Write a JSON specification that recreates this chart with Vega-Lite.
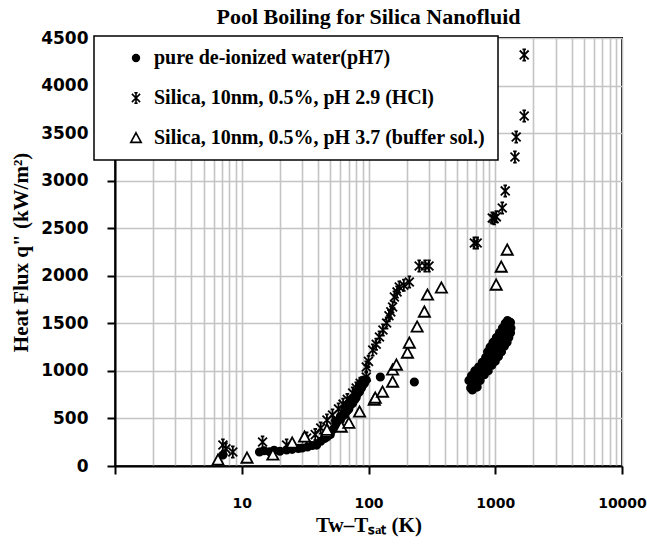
{
  "$schema": "https://vega.github.io/schema/vega-lite/v6.json",
  "width": 507,
  "height": 428,
  "autosize": "none",
  "padding": {"left": 115, "top": 38, "right": 25, "bottom": 80},
  "background": "white",
  "config": {
    "view": {"stroke": "black", "strokeWidth": 2},
    "axis": {
      "domainColor": "black",
      "domainWidth": 2,
      "gridColor": "#c4c4c4",
      "gridWidth": 1.6,
      "gridOpacity": 1,
      "tickColor": "black",
      "tickWidth": 2,
      "tickSize": 8,
      "labelFont": "DejaVu Sans",
      "labelFontWeight": "bold",
      "labelFontSize": 17,
      "labelColor": "black",
      "titleFont": "Liberation Serif",
      "titleFontWeight": "bold",
      "titleColor": "black",
      "labelOverlap": false
    },
    "legend": {
      "orient": "none",
      "legendX": -21,
      "legendY": -2,
      "strokeColor": "black",
      "strokeWidth": 1.5,
      "fillColor": "white",
      "padding": 12,
      "symbolOffset": 20,
      "labelFont": "Liberation Serif",
      "labelFontSize": 20,
      "labelFontWeight": "bold",
      "labelColor": "black",
      "labelLimit": 700,
      "rowPadding": 20,
      "labelOffset": 8,
      "symbolSize": 120,
      "symbolStrokeWidth": 1.6
    }
  },
  "title": {
    "text": "Pool Boiling for Silica Nanofluid",
    "font": "Liberation Serif",
    "fontSize": 22,
    "fontWeight": "bold",
    "color": "black",
    "anchor": "middle",
    "offset": 0
  },
  "data": {
    "values": [
      {"series": "water", "dT": 7.1, "q": 116},
      {"series": "water", "dT": 13.8, "q": 147},
      {"series": "water", "dT": 15, "q": 160},
      {"series": "water", "dT": 16.6, "q": 150},
      {"series": "water", "dT": 18, "q": 165},
      {"series": "water", "dT": 20, "q": 155},
      {"series": "water", "dT": 22.6, "q": 168},
      {"series": "water", "dT": 25, "q": 175},
      {"series": "water", "dT": 28, "q": 185},
      {"series": "water", "dT": 30, "q": 189},
      {"series": "water", "dT": 33, "q": 200},
      {"series": "water", "dT": 36, "q": 215},
      {"series": "water", "dT": 39, "q": 220},
      {"series": "water", "dT": 42, "q": 260},
      {"series": "water", "dT": 45, "q": 290},
      {"series": "water", "dT": 47, "q": 305},
      {"series": "water", "dT": 50, "q": 330},
      {"series": "water", "dT": 52, "q": 380},
      {"series": "water", "dT": 55, "q": 420},
      {"series": "water", "dT": 58, "q": 460},
      {"series": "water", "dT": 60, "q": 480},
      {"series": "water", "dT": 62, "q": 520},
      {"series": "water", "dT": 65, "q": 540},
      {"series": "water", "dT": 68, "q": 580},
      {"series": "water", "dT": 70, "q": 600},
      {"series": "water", "dT": 72, "q": 640},
      {"series": "water", "dT": 75, "q": 660},
      {"series": "water", "dT": 78, "q": 700},
      {"series": "water", "dT": 80, "q": 720},
      {"series": "water", "dT": 82, "q": 760},
      {"series": "water", "dT": 85, "q": 780},
      {"series": "water", "dT": 88, "q": 820},
      {"series": "water", "dT": 90, "q": 850},
      {"series": "water", "dT": 93, "q": 870},
      {"series": "water", "dT": 96, "q": 904},
      {"series": "water", "dT": 55, "q": 470},
      {"series": "water", "dT": 60, "q": 520},
      {"series": "water", "dT": 65, "q": 600},
      {"series": "water", "dT": 70, "q": 650},
      {"series": "water", "dT": 75, "q": 700},
      {"series": "water", "dT": 80, "q": 780},
      {"series": "water", "dT": 85, "q": 850},
      {"series": "water", "dT": 90, "q": 900},
      {"series": "water", "dT": 124, "q": 936},
      {"series": "water", "dT": 230, "q": 883},
      {"series": "water", "dT": 640, "q": 820},
      {"series": "water", "dT": 660, "q": 860},
      {"series": "water", "dT": 680, "q": 880},
      {"series": "water", "dT": 700, "q": 900},
      {"series": "water", "dT": 720, "q": 930},
      {"series": "water", "dT": 740, "q": 950},
      {"series": "water", "dT": 760, "q": 960},
      {"series": "water", "dT": 780, "q": 990},
      {"series": "water", "dT": 800, "q": 1000},
      {"series": "water", "dT": 820, "q": 1020},
      {"series": "water", "dT": 850, "q": 1050},
      {"series": "water", "dT": 870, "q": 1080},
      {"series": "water", "dT": 900, "q": 1100},
      {"series": "water", "dT": 920, "q": 1120},
      {"series": "water", "dT": 950, "q": 1150},
      {"series": "water", "dT": 980, "q": 1180},
      {"series": "water", "dT": 1000, "q": 1200},
      {"series": "water", "dT": 1030, "q": 1230},
      {"series": "water", "dT": 1060, "q": 1260},
      {"series": "water", "dT": 1100, "q": 1290},
      {"series": "water", "dT": 1130, "q": 1320},
      {"series": "water", "dT": 1160, "q": 1350},
      {"series": "water", "dT": 1200, "q": 1380},
      {"series": "water", "dT": 1230, "q": 1410},
      {"series": "water", "dT": 1260, "q": 1440},
      {"series": "water", "dT": 1290, "q": 1470},
      {"series": "water", "dT": 1320, "q": 1510},
      {"series": "water", "dT": 700, "q": 850},
      {"series": "water", "dT": 760, "q": 900},
      {"series": "water", "dT": 820, "q": 960},
      {"series": "water", "dT": 880, "q": 1000},
      {"series": "water", "dT": 940, "q": 1060},
      {"series": "water", "dT": 1000, "q": 1100},
      {"series": "water", "dT": 1060, "q": 1150},
      {"series": "water", "dT": 1120, "q": 1200},
      {"series": "water", "dT": 1180, "q": 1260},
      {"series": "water", "dT": 1240, "q": 1300},
      {"series": "water", "dT": 1280, "q": 1350},
      {"series": "water", "dT": 1320, "q": 1400},
      {"series": "water", "dT": 1330, "q": 1450},
      {"series": "water", "dT": 660, "q": 800},
      {"series": "water", "dT": 720, "q": 830},
      {"series": "water", "dT": 620, "q": 900},
      {"series": "water", "dT": 650, "q": 950},
      {"series": "water", "dT": 690, "q": 1000},
      {"series": "water", "dT": 740, "q": 1040},
      {"series": "water", "dT": 790, "q": 1090},
      {"series": "water", "dT": 840, "q": 1140},
      {"series": "water", "dT": 870, "q": 1200},
      {"series": "water", "dT": 910, "q": 1250},
      {"series": "water", "dT": 960, "q": 1300},
      {"series": "water", "dT": 1020, "q": 1350},
      {"series": "water", "dT": 1080, "q": 1400},
      {"series": "water", "dT": 1140, "q": 1450},
      {"series": "water", "dT": 1200, "q": 1500},
      {"series": "water", "dT": 1250, "q": 1530},
      {"series": "hcl", "dT": 7.1, "q": 221},
      {"series": "hcl", "dT": 7.5, "q": 180},
      {"series": "hcl", "dT": 8.5, "q": 147},
      {"series": "hcl", "dT": 14.6, "q": 252},
      {"series": "hcl", "dT": 22.6, "q": 221},
      {"series": "hcl", "dT": 32.5, "q": 294},
      {"series": "hcl", "dT": 38, "q": 330},
      {"series": "hcl", "dT": 42, "q": 400},
      {"series": "hcl", "dT": 47, "q": 484},
      {"series": "hcl", "dT": 52, "q": 536},
      {"series": "hcl", "dT": 58, "q": 600},
      {"series": "hcl", "dT": 63, "q": 650},
      {"series": "hcl", "dT": 68, "q": 700},
      {"series": "hcl", "dT": 75, "q": 768},
      {"series": "hcl", "dT": 80, "q": 820},
      {"series": "hcl", "dT": 86, "q": 870},
      {"series": "hcl", "dT": 96, "q": 936},
      {"series": "hcl", "dT": 96, "q": 1041},
      {"series": "hcl", "dT": 100, "q": 1100},
      {"series": "hcl", "dT": 108, "q": 1220},
      {"series": "hcl", "dT": 115, "q": 1280},
      {"series": "hcl", "dT": 122, "q": 1356},
      {"series": "hcl", "dT": 130, "q": 1430},
      {"series": "hcl", "dT": 139, "q": 1504},
      {"series": "hcl", "dT": 145, "q": 1580},
      {"series": "hcl", "dT": 150, "q": 1620},
      {"series": "hcl", "dT": 155, "q": 1672},
      {"series": "hcl", "dT": 160, "q": 1777},
      {"series": "hcl", "dT": 168, "q": 1830},
      {"series": "hcl", "dT": 175, "q": 1882},
      {"series": "hcl", "dT": 190, "q": 1900},
      {"series": "hcl", "dT": 210, "q": 1935},
      {"series": "hcl", "dT": 251, "q": 2103},
      {"series": "hcl", "dT": 280, "q": 2103},
      {"series": "hcl", "dT": 300, "q": 2103},
      {"series": "hcl", "dT": 684, "q": 2345},
      {"series": "hcl", "dT": 720, "q": 2345},
      {"series": "hcl", "dT": 947, "q": 2608},
      {"series": "hcl", "dT": 980, "q": 2600},
      {"series": "hcl", "dT": 1020, "q": 2620},
      {"series": "hcl", "dT": 1136, "q": 2713},
      {"series": "hcl", "dT": 1199, "q": 2892},
      {"series": "hcl", "dT": 1430, "q": 3249},
      {"series": "hcl", "dT": 1463, "q": 3459},
      {"series": "hcl", "dT": 1692, "q": 3680},
      {"series": "hcl", "dT": 1692, "q": 4322},
      {"series": "buffer", "dT": 6.5, "q": 63},
      {"series": "buffer", "dT": 11, "q": 84},
      {"series": "buffer", "dT": 17.6, "q": 116},
      {"series": "buffer", "dT": 25, "q": 242},
      {"series": "buffer", "dT": 31.3, "q": 305},
      {"series": "buffer", "dT": 46.8, "q": 357},
      {"series": "buffer", "dT": 47, "q": 378},
      {"series": "buffer", "dT": 61, "q": 410},
      {"series": "buffer", "dT": 70, "q": 450},
      {"series": "buffer", "dT": 85, "q": 568},
      {"series": "buffer", "dT": 111, "q": 694},
      {"series": "buffer", "dT": 113, "q": 715},
      {"series": "buffer", "dT": 129, "q": 778},
      {"series": "buffer", "dT": 155, "q": 883},
      {"series": "buffer", "dT": 155, "q": 1010},
      {"series": "buffer", "dT": 166, "q": 1062},
      {"series": "buffer", "dT": 203, "q": 1188},
      {"series": "buffer", "dT": 210, "q": 1293},
      {"series": "buffer", "dT": 242, "q": 1462},
      {"series": "buffer", "dT": 276, "q": 1619},
      {"series": "buffer", "dT": 292, "q": 1798},
      {"series": "buffer", "dT": 376, "q": 1872},
      {"series": "buffer", "dT": 1017, "q": 1903},
      {"series": "buffer", "dT": 1115, "q": 2092},
      {"series": "buffer", "dT": 1243, "q": 2271}
    ]
  },
  "mark": {"type": "point", "strokeWidth": 1.8, "opacity": 1},
  "encoding": {
    "x": {
      "field": "dT",
      "type": "quantitative",
      "scale": {"type": "log", "domain": [1, 10000]},
      "axis": {
        "values": [1, 2, 3, 4, 5, 6, 7, 8, 9, 10, 20, 30, 40, 50, 60, 70, 80, 90, 100, 200, 300, 400, 500, 600, 700, 800, 900, 1000, 2000, 3000, 4000, 5000, 6000, 7000, 8000, 9000, 10000],
        "format": "d",
        "labelExpr": "indexof([10, 100, 1000, 10000], datum.value) >= 0 ? datum.label : ''",
        "tickOpacity": {"condition": {"test": "indexof([1, 10, 100, 1000, 10000], datum.value) >= 0", "value": 1}, "value": 0},
        "labelFontSize": 14,
        "labelPadding": 22,
        "labelFlush": false,
        "title": "Tw–Tₛₐₜ (K)",
        "titleFontSize": 21,
        "titlePadding": 4
      }
    },
    "y": {
      "field": "q",
      "type": "quantitative",
      "scale": {"domain": [0, 4500]},
      "axis": {
        "values": [0, 500, 1000, 1500, 2000, 2500, 3000, 3500, 4000, 4500],
        "format": "d",
        "labelPadding": 19,
        "title": "Heat Flux q\" (kW/m²)",
        "titleFontSize": 21,
        "titlePadding": 9
      }
    },
    "shape": {
      "field": "series",
      "type": "nominal",
      "scale": {
        "domain": ["water", "hcl", "buffer"],
        "range": [
          "M0.62,0A0.62,0.62 0 1,1 -0.62,0A0.62,0.62 0 1,1 0.62,0Z",
          "M0,-1L0,1M-0.75,-0.75L0.75,0.75M-0.75,0.75L0.75,-0.75M-0.3,-0.95L0.3,-0.95M-0.3,0.95L0.3,0.95",
          "M0,-0.95L0.95,0.8L-0.95,0.8Z"
        ]
      },
      "legend": {
        "title": null,
        "labelExpr": "datum.value == 'water' ? 'pure de-ionized water(pH7)' : datum.value == 'hcl' ? 'Silica, 10nm, 0.5%, pH 2.9 (HCl)' : 'Silica, 10nm, 0.5%, pH 3.7 (buffer sol.)'"
      }
    },
    "fill": {
      "field": "series",
      "type": "nominal",
      "scale": {"domain": ["water", "hcl", "buffer"], "range": ["black", "transparent", "white"]},
      "legend": {
        "title": null,
        "labelExpr": "datum.value == 'water' ? 'pure de-ionized water(pH7)' : datum.value == 'hcl' ? 'Silica, 10nm, 0.5%, pH 2.9 (HCl)' : 'Silica, 10nm, 0.5%, pH 3.7 (buffer sol.)'"
      }
    },
    "stroke": {
      "field": "series",
      "type": "nominal",
      "scale": {"domain": ["water", "hcl", "buffer"], "range": ["black", "black", "black"]},
      "legend": {
        "title": null,
        "labelExpr": "datum.value == 'water' ? 'pure de-ionized water(pH7)' : datum.value == 'hcl' ? 'Silica, 10nm, 0.5%, pH 2.9 (HCl)' : 'Silica, 10nm, 0.5%, pH 3.7 (buffer sol.)'"
      }
    },
    "size": {"value": 140}
  }
}
